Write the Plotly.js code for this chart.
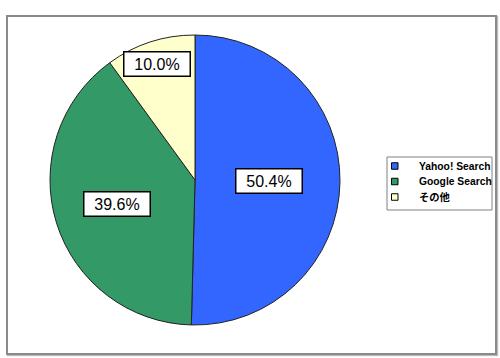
<!DOCTYPE html>
<html><head><meta charset="utf-8">
<script src="https://cdn.plot.ly/plotly-3.0.1.min.js"></script>
<style>
body{margin:0;padding:0;background:#fff;}
#wrap{position:relative;width:500px;height:358px;}
#chart{position:absolute;left:0;top:0;width:500px;height:358px;}
#frame{position:absolute;left:6px;top:15px;width:487px;height:336px;border:2px solid #8a8a8a;box-shadow:1px 1px 1px #bbb;pointer-events:none;}
</style></head>
<body>
<div id="wrap"><div id="chart"></div><div id="frame"></div></div>
<script>
const labels = ["Yahoo! Search", "Google Search", "その他"];
const values = [50.4, 39.6, 10.0];
const colors = ["#3366FF", "#339966", "#FFFFCC"];
const labelRadius = [0.51, 0.56, 0.84];

const W = 500, H = 358;
const px2x = p => p / W, px2y = p => 1 - p / H;
const pieLeft = 50, pieRight = 340, pieTop = 35, pieBottom = 325;
const cx = (pieLeft + pieRight) / 2, cy = (pieTop + pieBottom) / 2, R = (pieRight - pieLeft) / 2;

const total = values.reduce((a, b) => a + b, 0);
let cum = 0;
const annotations = values.map((v, i) => {
  const mid = (cum + v / 2) / total * 2 * Math.PI;
  cum += v;
  const px = cx + Math.sin(mid) * R * labelRadius[i];
  const py = cy - Math.cos(mid) * R * labelRadius[i];
  return {
    x: px2x(px), y: px2y(py), xref: 'paper', yref: 'paper',
    text: (v / total * 100).toFixed(1) + '%', showarrow: false,
    bgcolor: '#ffffff', bordercolor: '#000000', borderwidth: 1.5, borderpad: 2,
    width: 61, height: 19,
    font: {family: 'Arial, Liberation Sans, sans-serif', size: 16, color: '#000'},
    xanchor: 'center', yanchor: 'middle'
  };
});

// legend built from labels/colors
const legL = 387, legT = 157, legR = 492, legB = 210;
const rowY0 = 166, rowStep = 15.5, symX = 391.5, symSize = 6.5, textX = 417;
const shapes = [{type: 'rect', xref: 'paper', yref: 'paper',
  x0: px2x(legL), x1: px2x(legR), y0: px2y(legB), y1: px2y(legT),
  line: {color: '#808080', width: 1}, fillcolor: '#fff', layer: 'above'}];
labels.forEach((lab, i) => {
  const yc = rowY0 + i * rowStep;
  shapes.push({type: 'rect', xref: 'paper', yref: 'paper',
    x0: px2x(symX), x1: px2x(symX + symSize), y0: px2y(yc + symSize / 2), y1: px2y(yc - symSize / 2),
    line: {color: '#000', width: 1}, fillcolor: colors[i], layer: 'above'});
  annotations.push({x: px2x(textX), y: px2y(yc), xref: 'paper', yref: 'paper',
    text: '<b>' + lab + '</b>', showarrow: false, xanchor: 'left', yanchor: 'middle',
    font: {family: 'Arial, "Noto Sans CJK JP", sans-serif', size: 10.3, color: '#000'}});
});

const trace = {
  type: 'pie', labels: labels, values: values, sort: false,
  direction: 'clockwise', rotation: 0,
  marker: {colors: colors, line: {color: '#222', width: 1}},
  textinfo: 'none', hoverinfo: 'none',
  domain: {x: [px2x(pieLeft), px2x(pieRight)], y: [px2y(pieBottom), px2y(pieTop)]}
};

const layout = {
  width: W, height: H, margin: {l: 0, r: 0, t: 0, b: 0},
  paper_bgcolor: '#fff', showlegend: false,
  shapes: shapes,
  annotations: annotations
};
Plotly.newPlot('chart', [trace], layout, {staticPlot: true});
</script>
</body></html>
